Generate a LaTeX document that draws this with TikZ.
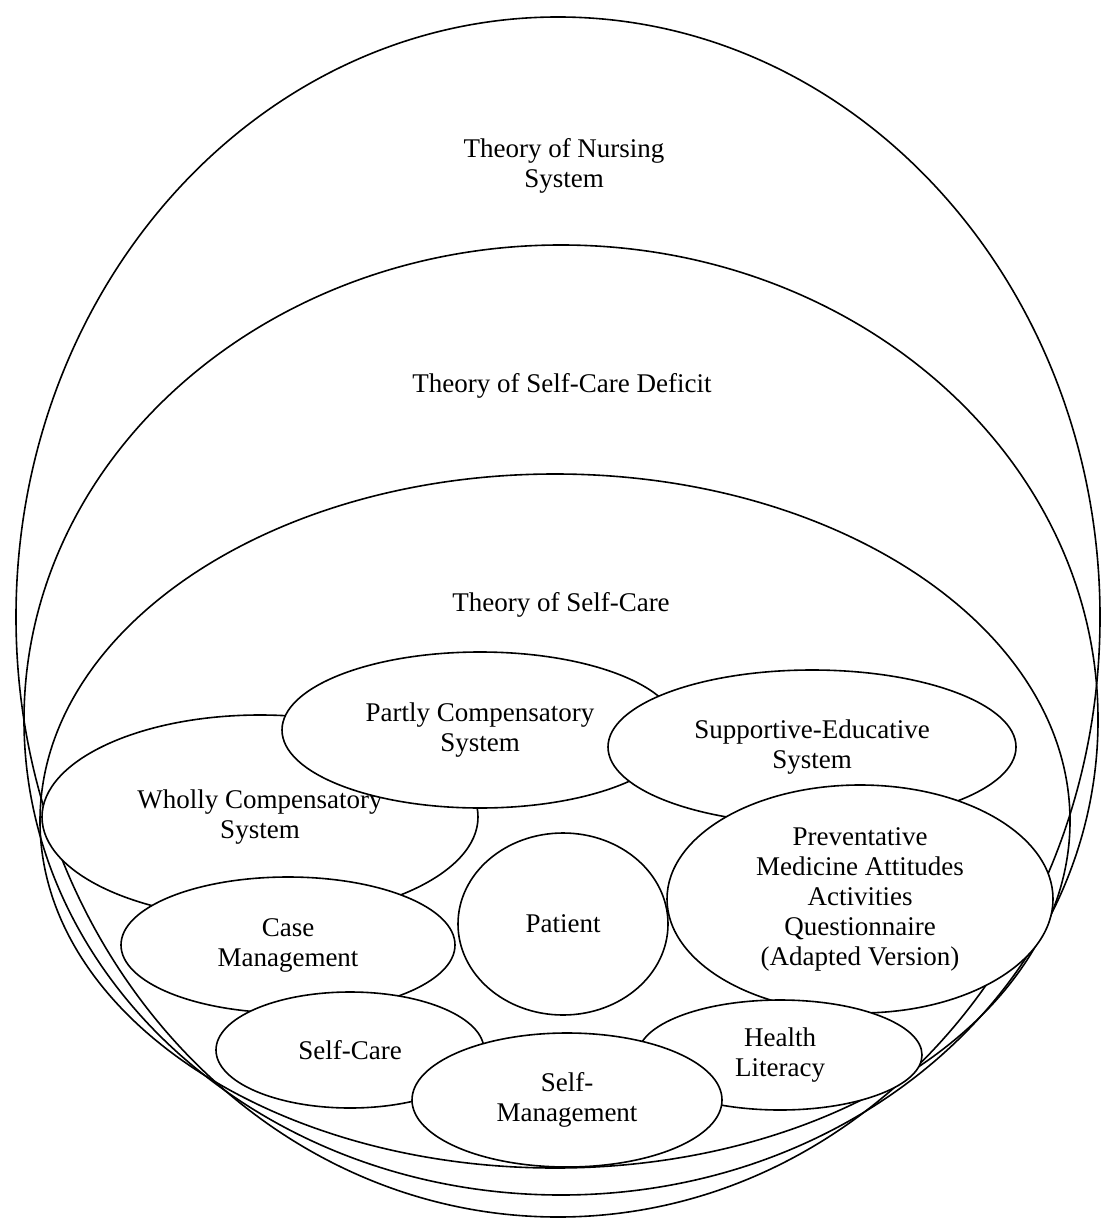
\documentclass[tikz,border=0pt]{standalone}
\usepackage{fontspec}
\setmainfont{Liberation Serif}
\usetikzlibrary{shapes.geometric}

\begin{document}
\begin{tikzpicture}[x=0.5pt, y=-0.5pt, line width=0.8pt,
    every node/.style={font=\fontsize{13.5}{15}\selectfont, align=center},
    bubble/.style={ellipse, draw, fill=white, inner sep=0pt}]
    \useasboundingbox (0,0) rectangle (1102,1218);
		% the three theories, one inside the next
		\foreach \cx/\cy/\rx/\ry in {558/617/542/600, 561/720/537/475, 555/821/515/347}
			\draw (\cx,\cy) ellipse [x radius=\rx, y radius=\ry];
		\node (nursing) at (564,166) {Theory of Nursing\\System};
		\node (deficit) at (562,386) {Theory of Self-Care Deficit};
		\node (selfcaretheory) at (561,605) {Theory of Self-Care};
		% concepts, later ones lie on top
		\node [bubble, minimum width=218pt, minimum height=102pt] (wholly) at (260,817) {Wholly Compensatory\\System};
		\node [bubble, minimum width=198pt, minimum height=78pt] (partly) at (480,730) {Partly Compensatory\\System};
		\node [bubble, minimum width=204pt, minimum height=77pt] (supportive) at (812,747) {Supportive-Educative\\System};
		\node [bubble, minimum width=193pt, minimum height=114pt] (pmaaq) at (860,899) {Preventative\\Medicine Attitudes\\Activities\\Questionnaire\\(Adapted Version)};
		\node [bubble, minimum width=167pt, minimum height=68pt] (casemgmt) at (288,945) {Case\\Management};
		\node [bubble, minimum width=105pt, minimum height=91pt] (patient) at (563,924) {Patient};
		\node [bubble, minimum width=142pt, minimum height=55pt] (healthlit) at (780,1055) {Health\\Literacy};
		\node [bubble, minimum width=134pt, minimum height=58pt] (selfcare) at (350,1050) {Self-Care};
		\node [bubble, minimum width=155pt, minimum height=67pt] (selfmgmt) at (567,1100) {Self-\\Management};
  \end{tikzpicture}
\end{document}
